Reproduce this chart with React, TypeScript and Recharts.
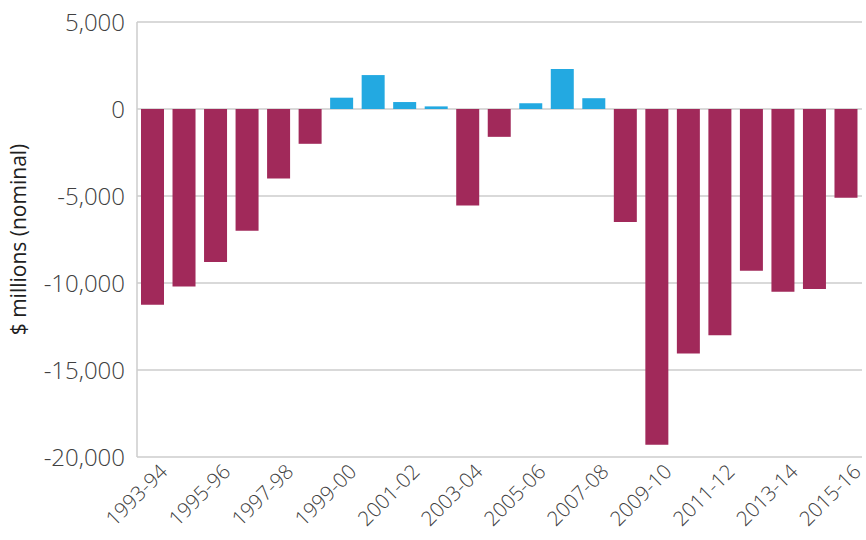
import React from 'react';
import { BarChart, Bar, XAxis, YAxis, CartesianGrid, Cell } from 'recharts';

const categories = [
  '1993-94', '1994-95', '1995-96', '1996-97', '1997-98', '1998-99', '1999-00', '2000-01',
  '2001-02', '2002-03', '2003-04', '2004-05', '2005-06', '2006-07', '2007-08', '2008-09',
  '2009-10', '2010-11', '2011-12', '2012-13', '2013-14', '2014-15', '2015-16',
];
const balance = [
  -11250, -10200, -8800, -7000, -4000, -2000, 650, 1950,
  400, 150, -5550, -1600, 330, 2300, 620, -6500,
  -19300, -14050, -13000, -9300, -10500, -10350, -5100,
];
const yTicks = [5000, 0, -5000, -10000, -15000, -20000];

const NEG = '#A1295A';
const POS = '#23A9E1';
const FONT = '"Open Sans", sans-serif';

const data = categories.map((c, i) => ({ year: c, value: balance[i] }));

const XTick = (props: any) => {
  const { x, y, payload } = props;
  const ax = x + 16;
  const ay = y + 8;
  return (
    <text
      x={ax}
      y={ay}
      transform={`rotate(-45, ${ax}, ${ay})`}
      textAnchor="end"
      fontSize={20.5}
      fontWeight={300}
      fill="#404040"
      fontFamily={FONT}
    >
      {payload.value}
    </text>
  );
};

export default function App() {
  return (
    <div style={{ position: 'absolute', left: 0, top: 0 }}>
      <BarChart
        width={866}
        height={540}
        data={data}
        margin={{ top: 22, right: 4, bottom: 0, left: 0 }}
      >
        <CartesianGrid vertical={false} stroke="#cccccc" strokeWidth={1.5} />
        <XAxis
          dataKey="year"
          height={83}
          interval={1}
          tickLine={false}
          axisLine={false}
          tick={<XTick />}
        />
        <YAxis
          width={137}
          domain={[-20000, 5000]}
          ticks={yTicks}
          tickLine={false}
          axisLine={{ stroke: '#cccccc', strokeWidth: 1.5 }}
          tickFormatter={(v: number) => v.toLocaleString('en-US')}
          tick={{ fontSize: 24, fontWeight: 300, fill: '#404040', fontFamily: FONT }}
          tickMargin={6}
          label={{
            value: '$ millions (nominal)',
            angle: -90,
            position: 'insideLeft',
            dx: 14,
            style: { fontSize: 21, fill: '#202020', fontFamily: FONT, textAnchor: 'middle' },
          }}
        />
        <Bar dataKey="value" barSize={23} isAnimationActive={false}>
          {data.map((d, i) => (
            <Cell key={i} fill={d.value >= 0 ? POS : NEG} />
          ))}
        </Bar>
      </BarChart>
    </div>
  );
}
